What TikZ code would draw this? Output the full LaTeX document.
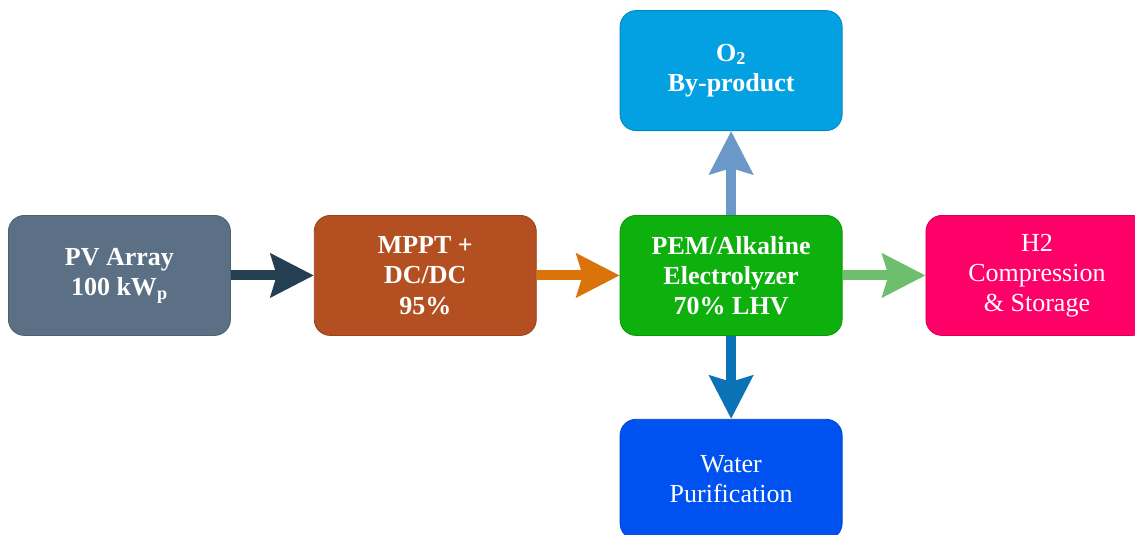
\documentclass[tikz,border=0pt]{standalone}
\usepackage{fontspec}
\setmainfont{Liberation Serif}
\usepackage{xcolor}
\usepackage{tikz}
\usetikzlibrary{arrows.meta,
positioning}

\definecolor{pvgray}{HTML}{5B7085}
\definecolor{mpptbrown}{HTML}{B34F20}
\definecolor{elecgreen}{HTML}{0DB00D}
\definecolor{storagepink}{HTML}{FF0068}
\definecolor{oxygenblue}{HTML}{03A0E2}
\definecolor{waterblue}{HTML}{0052F0}
\definecolor{arrnavy}{HTML}{243E52}
\definecolor{arrorange}{HTML}{D9730A}
\definecolor{arrsteel}{HTML}{6A98C8}
\definecolor{arrblue}{HTML}{0B72B5}
\definecolor{arrgreen}{HTML}{6DBE6D}

\begin{document}
\begin{tikzpicture}[
				block/.style={
					rounded corners=4mm,
					minimum width=55.5mm,
					minimum height=30mm,
					align=center,
					text=white,
					font=\fontsize{18.5pt}{21.5pt}\selectfont,
					line width=0.6pt
				},
				flow/.style={
					line width=2.5mm,
					-{Stealth[length=10.75mm,width=10.75mm,inset=1.5mm]}
				}
				]
				\useasboundingbox (0,0) rectangle (283.75mm,-133.5mm);
				
				\node[block, fill=pvgray, draw=pvgray!85!black, anchor=north west] (pv) at (2mm,-53.75mm) {\bfseries PV Array\\\bfseries 100 kW\textsubscript{p}};
				\node[block, fill=mpptbrown, draw=mpptbrown!85!black, right=20.75mm of pv] (mppt) {\bfseries MPPT +\\\bfseries DC/DC\\\bfseries 95\%};
				\node[block, fill=elecgreen, draw=elecgreen!85!black, right=20.75mm of mppt] (elec) {\bfseries PEM/Alkaline\\\bfseries Electrolyzer\\\bfseries 70\% LHV};
				\node[block, fill=storagepink, draw=storagepink!85!black, right=20.75mm of elec] (storage) {H2\\Compression\\\& Storage};
				
				\node[block, fill=oxygenblue, draw=oxygenblue!85!black, above=21mm of elec] (oxygen) {\bfseries O\textsubscript{2}\\\bfseries By-product};
				\node[block, fill=waterblue, draw=waterblue!85!black, below=20.75mm of elec] (water) {Water\\Purification};
				
				\draw[flow, arrnavy] (pv) -- (mppt);
				\draw[flow, arrorange] (mppt) -- (elec);
				\draw[flow, arrgreen] (elec) -- (storage);
				\draw[flow, arrsteel] (elec) -- (oxygen);
				\draw[flow, arrblue] (elec) -- (water);
			\end{tikzpicture}
\end{document}
